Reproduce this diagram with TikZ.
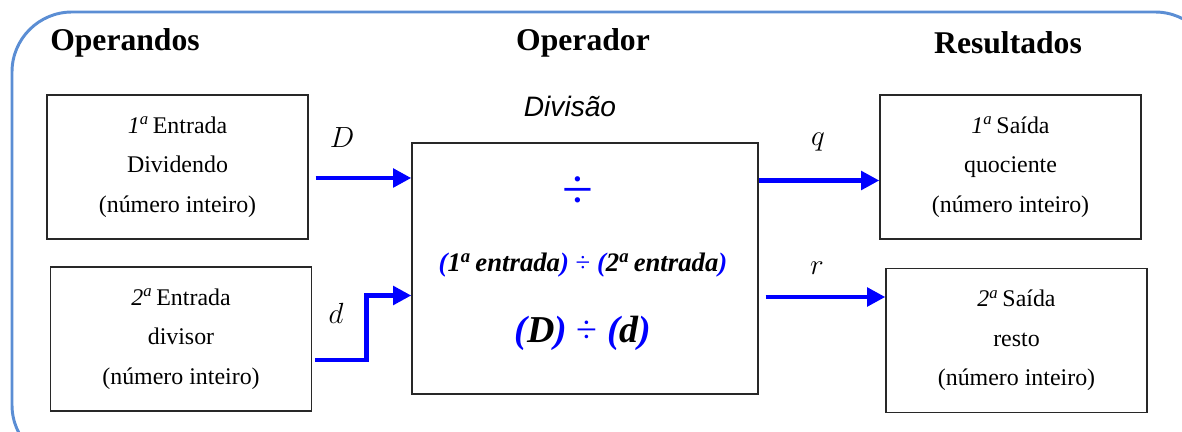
\documentclass[tikz,border=0pt]{standalone}
\usepackage{fontspec}
\setmainfont{Liberation Serif}
\setsansfont{Liberation Sans}
\usetikzlibrary{arrows.meta,calc}
\definecolor{framec}{RGB}{91,142,212}
\definecolor{boxc}{RGB}{40,40,40}
\definecolor{pureblue}{RGB}{0,0,255}
\begin{document}
\begin{tikzpicture}[
    x=0.025cm, y=-0.025cm,
    font=\fontsize{17}{28}\selectfont\rmfamily,
    inbox/.style={
        draw=boxc,
        line width=0.9pt,
        rectangle,
        minimum width=6.525cm,
        minimum height=3.6cm,
        align=center,
        inner sep=0pt
    },
    opbox/.style={
        draw=boxc,
        line width=0.9pt,
        rectangle,
        minimum width=8.65cm,
        minimum height=6.275cm,
        inner sep=0pt
    },
    title/.style={
        font=\fontsize{22.5}{26}\selectfont\bfseries,
        inner sep=0pt
    },
    varlabel/.style={
        font=\fontsize{20}{24}\selectfont,
        inner sep=0pt
    },
    flow/.style={
        draw=pureblue,
        line width=3.5pt,
        -{Triangle[length=13pt,width=13pt]}
    }
]
\useasboundingbox (0,0) rectangle (1182,432);
\clip (0,0) rectangle (1182,432);

% outer frame
\draw[framec, line width=2.1pt, rounded corners=1.5cm] (12,12) rectangle (1215,465);

% titles
\node[title] (toperandos) at (125,43) {Operandos};
\node[title] (toperador) at (583,43) {Operador};
\node[title] (tresultados) at (1008,43) {Resultados};

% operands
\node[inbox] (in1) at (177.5,167) {{\itshape 1\textsuperscript{a}}\,Entrada\\Dividendo\\(número inteiro)};
\node[inbox] (in2) at (181,339) {{\itshape 2\textsuperscript{a}}\,Entrada\\divisor\\(número inteiro)};

% operator
\node[font=\fontsize{20}{24}\selectfont\sffamily\itshape, inner sep=0pt] (tdiv) at (570,106) {Divisão};
\node[opbox] (op) at (585,268.5) {};
\node[text=pureblue, font=\fontsize{40}{40}\selectfont, inner sep=0pt] (sym) at (578,193) {÷};
\node[font=\fontsize{19}{22}\selectfont\bfseries\itshape, inner sep=0pt] (rule) at (583,265)
    {\textcolor{pureblue}{(}1\textsuperscript{a}\,entrada\textcolor{pureblue}{)}
     \textcolor{pureblue}{\mdseries\upshape ÷}
     \textcolor{pureblue}{(}2\textsuperscript{a}\,entrada\textcolor{pureblue}{)}};
\node[font=\fontsize{27}{30}\selectfont\bfseries\itshape, inner sep=0pt] (formula) at (583,333)
    {\textcolor{pureblue}{(}D\textcolor{pureblue}{)}
     \textcolor{pureblue}{\mdseries\upshape ÷}
     \textcolor{pureblue}{(}d\textcolor{pureblue}{)}};

% results
\node[inbox] (out1) at (1010.5,167) {{\itshape 1\textsuperscript{a}}\,Saída\\quociente\\(número inteiro)};
\node[inbox] (out2) at (1016.5,340.5) {{\itshape 2\textsuperscript{a}}\,Saída\\resto\\(número inteiro)};

% connectors
\draw[flow] ($(in1.east)+(7,11)$) coordinate (sD) -- (sD -| op.west);
\draw[flow] ($(in2.east)+(3,21)$) -| ($(op.west)+(-45,27)$) -- ($(op.west)+(0,27)$);
\draw[flow] ($(op.east)+(0,-88)$) coordinate (sq) -- (sq -| out1.west);
\draw[flow] ($(op.east)+(7,28.5)$) coordinate (sr) -- (sr -| out2.west);

% variable labels
\node[varlabel] (lD) at (342,138) {$D$};
\node[varlabel] (ld) at (336,313) {$d$};
\node[varlabel] (lq) at (818,142) {$q$};
\node[varlabel] (lr) at (817,268) {$r$};
\end{tikzpicture}
\end{document}
